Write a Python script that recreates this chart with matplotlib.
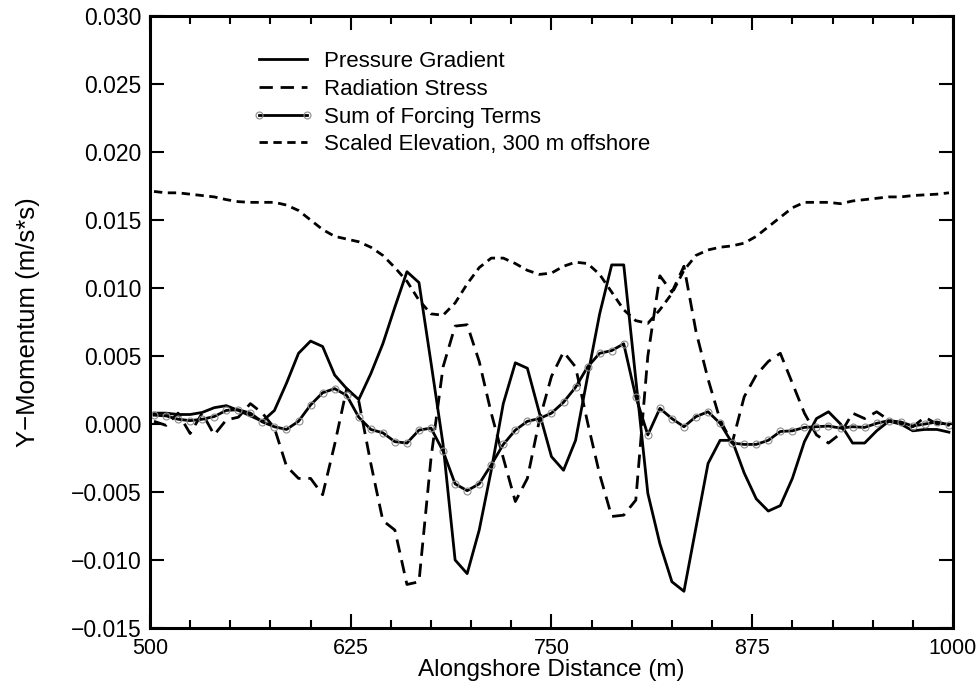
import numpy as np
import matplotlib
matplotlib.use("Agg")
import matplotlib.pyplot as plt
from matplotlib.ticker import MultipleLocator, FuncFormatter

# model grid, 7.5 m spacing
x = np.arange(502.5, 1000.0, 7.5)

# values in units of 1e-3 m/s*s
pressure_gradient = [
    0.8, 0.8, 0.7, 0.7, 0.85, 1.2, 1.35, 1.0, 0.6, 0.2,
    1.0, 3.0, 5.2, 6.1, 5.7, 3.6, 2.6, 1.8, 3.7, 5.9,
    8.6, 11.2, 10.4, 4.5, -1.5, -10.0, -11.0, -7.8, -3.4, 1.5,
    4.5, 4.1, 0.8, -2.4, -3.4, -1.2, 3.5, 8.1, 11.7, 11.7,
    3.3, -5.1, -8.8, -11.6, -12.3, -7.6, -2.9, -1.2, -1.2, -3.6,
    -5.5, -6.4, -6.0, -4.0, -1.3, 0.4, 0.9, 0.0, -1.4, -1.4,
    -0.5, 0.2, 0.0, -0.5, -0.4, -0.4, -0.6,
]
radiation_stress = [
    0.2, -0.1, 0.8, -0.7, 0.8, -0.8, 0.3, 0.5, 1.5, 0.8,
    -0.3, -3.1, -4.0, -4.0, -5.2, -1.5, 2.6, 1.7, -2.9, -7.1,
    -7.8, -11.8, -11.6, -2.5, 4.2, 7.2, 7.3, 4.6, 0.8, -2.5,
    -5.7, -4.0, 0.3, 3.5, 5.3, 4.2, 0.1, -3.7, -6.8, -6.7,
    -5.6, 5.0, 10.9, 9.7, 11.6, 6.8, 3.3, 0.3, -1.4, 2.0,
    3.6, 4.6, 5.2, 3.0, 0.8, -0.8, -1.4, -0.7, 0.8, 0.4,
    0.9, 0.3, 0.0, -0.2, 0.5, 0.0, -0.1,
]
forcing_sum = [
    0.65, 0.6, 0.35, 0.25, 0.35, 0.55, 1.0, 1.05, 0.8, 0.15,
    -0.2, -0.4, 0.2, 1.4, 2.3, 2.6, 2.1, 0.5, -0.4, -0.65,
    -1.3, -1.4, -0.45, -0.3, -2.0, -4.4, -4.9, -4.4, -3.0, -1.5,
    -0.45, 0.2, 0.4, 0.8, 1.6, 2.7, 4.2, 5.2, 5.4, 5.9,
    2.0, -0.8, 1.15, 0.4, -0.2, 0.55, 0.9, 0.05, -1.4, -1.5,
    -1.5, -1.2, -0.55, -0.5, -0.25, -0.2, -0.15, -0.3, -0.2, -0.25,
    0.05, 0.25, 0.15, -0.15, 0.0, 0.15, -0.05,
]
scaled_elevation = [
    17.1, 17.0, 17.0, 16.9, 16.8, 16.7, 16.5, 16.35, 16.3, 16.3,
    16.3, 16.1, 15.7, 15.0, 14.3, 13.8, 13.6, 13.4, 13.0, 12.4,
    11.5, 10.5, 9.1, 8.1, 8.0, 8.9, 10.3, 11.5, 12.2, 12.2,
    11.8, 11.3, 11.0, 11.1, 11.6, 11.9, 11.8, 11.0, 9.7, 8.4,
    7.6, 7.4, 8.4, 9.6, 11.3, 12.4, 12.8, 13.0, 13.1, 13.3,
    13.8, 14.5, 15.2, 15.9, 16.3, 16.3, 16.3, 16.2, 16.4, 16.5,
    16.6, 16.7, 16.7, 16.8, 16.85, 16.9, 17.0,
]

plt.rcParams["font.family"] = ["Liberation Sans", "DejaVu Sans"]

fig = plt.figure(figsize=(9.79, 6.88), dpi=100)
ax = fig.add_axes([0.1532, 0.0872, 0.8202, 0.8895])

scale = 1e-3
lw = 2.0
ax.plot(x, np.array(pressure_gradient) * scale, color="black", lw=lw,
        label="Pressure Gradient")
ax.plot(x, np.array(radiation_stress) * scale, color="black", lw=lw,
        dashes=(4.8, 2.8), label="Radiation Stress")
ax.plot(x, np.array(forcing_sum) * scale, color="black", lw=lw,
        marker="o", ms=5, mfc="none", mec="#8c8c8c", mew=0.8,
        label="Sum of Forcing Terms")
ax.plot(x, np.array(scaled_elevation) * scale, color="black", lw=lw,
        dashes=(3.0, 2.0), label="Scaled Elevation, 300 m offshore")

ax.set_xlim(500, 1000)
ax.set_ylim(-0.015, 0.030)
ax.xaxis.set_major_locator(MultipleLocator(125))
ax.xaxis.set_minor_locator(MultipleLocator(25))
ax.yaxis.set_major_locator(MultipleLocator(0.005))
ax.yaxis.set_major_formatter(
    FuncFormatter(lambda v, pos: f"{v:.3f}".replace("-", "\u2212")))
ax.tick_params(which="both", direction="in", top=True, right=True,
               width=1.5, labelsize=16.5)
ax.tick_params(axis="x", labelsize=15.5, pad=7)
ax.tick_params(axis="y", pad=6)
ax.tick_params(which="major", length=10)
ax.tick_params(which="minor", length=6)
for sp in ax.spines.values():
    sp.set_linewidth(2.2)

ax.set_xlabel("Alongshore Distance (m)", fontsize=17.5, labelpad=0.5)
ax.set_ylabel("Y\u2212Momentum (m/s*s)", fontsize=18.5, labelpad=22)

ax.legend(loc="upper left", bbox_to_anchor=(0.117, 0.957), frameon=False,
          fontsize=16, handlelength=2.75, handletextpad=0.45,
          labelspacing=0.3, numpoints=2, borderaxespad=0.0)

fig.savefig("out.png", dpi=100, facecolor="white")
